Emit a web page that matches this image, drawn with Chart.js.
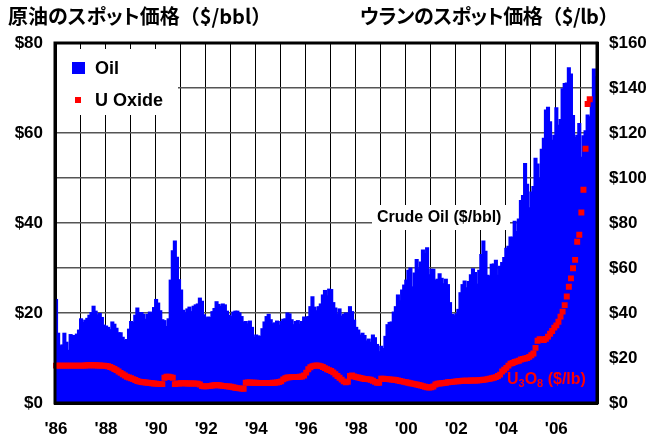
<!DOCTYPE html>
<html>
<head>
<meta charset="utf-8">
<script src="https://cdn.jsdelivr.net/npm/chart.js@4.4.0/dist/chart.umd.min.js"></script>
<style>
body { margin:0; background:#fff; }
#wrap { position:relative; width:652px; height:443px; }
.ttl { position:absolute; top:2px; font: bold 20px "Noto Sans CJK JP", sans-serif; color:#000; white-space:nowrap; line-height:28px; }
.kana { font-feature-settings: "palt"; }
</style>
</head>
<body>
<div id="wrap">
<canvas id="c" width="652" height="443"></canvas>
<div class="ttl" style="left:8px">原油<span class="kana">のスポット</span>価格（$/bbl）</div>
<div class="ttl" style="left:360px; letter-spacing:-0.5px"><span class="kana">ウランのスポット</span>価格（$/lb）</div>
</div>
<script>
// monthly, Jan 1986 .. Aug 2007
var startYear = 1986;
var oilPrice = [
  22.9, 15.4, 12.6, 12.8, 15.4, 13.4, 11.6, 15.1, 14.9, 14.9, 15.2, 16.1,
  18.6, 17.8, 18.3, 18.7, 19.4, 20.0, 21.4, 20.3, 19.5, 19.8, 18.9, 17.2,
  17.0, 16.7, 16.2, 17.9, 17.4, 16.5, 15.5, 15.5, 14.5, 13.8, 14.0, 16.3,
  18.0, 17.8, 19.4, 21.0, 20.0, 20.0, 19.6, 18.5, 19.6, 20.1, 19.8, 21.1,
  22.9, 22.1, 20.4, 18.4, 18.2, 16.9, 18.6, 27.2, 33.7, 35.9, 32.3, 27.3,
  25.0, 20.5, 19.9, 20.8, 21.2, 20.2, 21.4, 21.7, 21.9, 23.2, 22.5, 19.5,
  18.8, 19.0, 18.9, 20.2, 20.9, 22.4, 21.8, 21.4, 21.9, 21.7, 20.3, 19.4,
  19.1, 20.1, 20.3, 20.3, 19.9, 19.1, 17.9, 18.0, 17.5, 18.1, 16.7, 14.5,
  15.0, 14.8, 14.7, 16.4, 17.9, 19.1, 19.6, 18.4, 17.5, 17.7, 18.1, 17.2,
  18.0, 18.5, 18.6, 19.9, 19.7, 18.4, 17.3, 18.0, 18.2, 17.4, 18.0, 19.0,
  18.9, 19.1, 21.3, 23.5, 21.2, 20.4, 21.3, 21.9, 23.9, 24.9, 23.7, 25.2,
  25.1, 22.2, 21.0, 19.7, 20.8, 19.2, 19.6, 19.9, 19.8, 21.3, 20.2, 18.3,
  16.7, 16.1, 15.0, 15.4, 14.9, 13.7, 14.1, 13.4, 15.0, 14.4, 12.9, 11.3,
  12.5, 12.0, 14.7, 17.3, 17.8, 17.9, 20.1, 21.3, 23.9, 22.6, 25.0, 26.1,
  27.2, 29.4, 29.9, 25.7, 28.8, 31.8, 29.7, 31.2, 33.9, 33.1, 34.4, 28.4,
  29.6, 29.6, 27.2, 27.4, 28.6, 27.6, 26.4, 27.4, 26.2, 22.2, 19.6, 19.3,
  19.7, 20.7, 24.4, 26.2, 27.0, 25.5, 26.9, 28.4, 29.7, 28.9, 26.3, 29.4,
  32.9, 35.9, 33.6, 28.3, 28.1, 30.7, 30.8, 31.6, 28.3, 30.3, 31.1, 32.2,
  34.3, 34.7, 36.8, 36.7, 40.3, 38.0, 40.8, 44.9, 46.0, 53.1, 48.5, 43.3,
  46.8, 48.0, 54.3, 53.0, 49.8, 56.3, 58.7, 65.0, 65.6, 62.4, 58.3, 59.4,
  65.5, 61.6, 62.9, 69.7, 70.9, 71.0, 74.4, 73.0, 63.8, 58.9, 59.4, 62.0,
  54.5, 59.3, 60.4, 63.9, 63.5, 67.5, 74.1, 72.4
];
// U3O8 spot, monthly, Jan 1986 .. May 2007
var uraniumPrice = [
  16.6, 16.6, 16.6, 16.6, 16.6, 16.6, 16.6, 16.6, 16.6, 16.6, 16.6, 16.6,
  16.6, 16.6, 16.7, 16.8, 16.8, 16.8, 16.8, 16.8, 16.7, 16.7, 16.6, 16.6,
  16.5, 16.3, 16.0, 15.6, 15.1, 14.6, 14.0, 13.4, 12.8, 12.2, 11.7, 11.3,
  11.0, 10.6, 10.2, 9.8, 9.5, 9.3, 9.2, 9.1, 9.0, 8.9, 8.8, 8.7,
  8.6, 8.5, 8.4, 8.4, 11.2, 11.7, 11.7, 11.5, 11.2, 8.4, 8.6, 8.7,
  8.8, 8.8, 8.8, 8.7, 8.7, 8.7, 8.7, 8.6, 8.6, 8.2, 7.5, 7.4,
  7.4, 7.5, 7.6, 7.8, 7.9, 8.0, 7.9, 7.8, 7.6, 7.5, 7.4, 7.3,
  7.2, 7.0, 6.8, 6.6, 6.5, 6.4, 6.3, 9.0, 9.1, 9.1, 9.0, 9.0,
  9.0, 8.9, 8.9, 8.9, 8.9, 8.9, 8.9, 8.9, 9.0, 9.0, 9.1, 9.3,
  9.6, 10.5, 11.0, 11.3, 11.4, 11.5, 11.5, 11.5, 11.6, 11.7, 11.8, 12.2,
  13.5, 15.0, 15.9, 16.4, 16.6, 16.7, 16.6, 16.4, 16.0, 15.5, 15.0, 14.6,
  14.2, 13.6, 12.8, 12.0, 11.2, 10.4, 9.6, 9.2, 9.4, 12.0, 12.2, 11.8,
  11.5, 11.3, 11.1, 10.9, 10.7, 10.6, 10.5, 10.3, 9.9, 9.4, 9.0, 9.0,
  10.8, 10.8, 10.7, 10.6, 10.5, 10.4, 10.3, 10.2, 10.0, 9.8, 9.6, 9.4,
  9.2, 9.0, 8.8, 8.6, 8.4, 8.2, 8.0, 7.8, 7.5, 7.2, 7.0, 6.9,
  7.0, 7.3, 8.2, 8.6, 8.7, 8.8, 8.9, 9.0, 9.2, 9.3, 9.4, 9.5,
  9.6, 9.7, 9.8, 9.9, 9.9, 9.9, 9.9, 10.0, 10.0, 10.0, 10.0, 10.1,
  10.2, 10.3, 10.4, 10.6, 10.8, 11.0, 11.2, 11.5, 12.0, 12.6, 14.0, 14.8,
  15.6, 16.6, 17.5, 17.8, 18.2, 18.5, 18.8, 19.3, 19.6, 19.8, 20.0, 20.5,
  21.2, 22.0, 24.5, 27.7, 28.4, 28.2, 28.0, 28.5, 29.5, 30.8, 32.0, 33.5,
  34.5, 36.1, 38.4, 40.6, 43.5, 47.3, 51.7, 55.4, 59.9, 63.6, 71.7, 74.8,
  84.7, 94.8, 113, 132.9, 135
];
var yearLabels = ["'86", "'88", "'90", "'92", "'94", "'96", "'98", "'00", "'02", "'04", "'06"];
var oilTicks = ['$0', '$20', '$40', '$60', '$80'];
var uraniumTicks = ['$0', '$20', '$40', '$60', '$80', '$100', '$120', '$140', '$160'];

var months = [];
for (var i = 0; i < oilPrice.length; i++) {
  months.push((startYear + Math.floor(i / 12)) + '-' + (i % 12 + 1));
}

var FONT = '"Liberation Sans", Arial, sans-serif';
Chart.defaults.font.family = FONT;
Chart.defaults.font.weight = 'bold';
Chart.defaults.font.size = 17;
Chart.defaults.color = '#000';

// frame, legend box and the two text notes
var overlay = {
  id: 'overlay',
  afterDatasetsDraw: function(chart) {
    var ctx = chart.ctx, a = chart.chartArea;
    ctx.save();
    ctx.lineWidth = 3;
    ctx.strokeStyle = '#000';
    ctx.strokeRect(a.left, a.top, a.right - a.left, a.bottom - a.top);

    // legend
    ctx.fillStyle = '#fff';
    ctx.fillRect(a.left + 2, a.top + 6, 121, 66);
    ctx.fillStyle = '#0000ff';
    ctx.fillRect(a.left + 17, a.top + 19, 13, 12);
    ctx.fillStyle = '#ff0000';
    ctx.fillRect(a.left + 20, a.top + 54, 6, 6);
    ctx.fillStyle = '#000';
    ctx.font = 'bold 18px ' + FONT;
    ctx.textBaseline = 'middle';
    ctx.textAlign = 'left';
    ctx.fillText('Oil', a.left + 40, a.top + 26);
    ctx.fillText('U Oxide', a.left + 40, a.top + 58);

    // crude oil note
    ctx.fillStyle = '#fff';
    ctx.fillRect(372, 205, 138, 25);
    ctx.fillStyle = '#000';
    ctx.font = 'bold 16px ' + FONT;
    ctx.fillText('Crude Oil ($/bbl)', 377, 218);

    // U3O8 note
    ctx.fillStyle = '#ff0000';
    var x = 507, y = 380;
    var parts = [['U', 16, 0], ['3', 11, 4], ['O', 16, 0], ['8', 11, 4], [' ($/lb)', 16, 0]];
    parts.forEach(function(p) {
      ctx.font = 'bold ' + p[1] + 'px ' + FONT;
      ctx.fillText(p[0], x, y + p[2]);
      x += ctx.measureText(p[0]).width;
    });
    ctx.restore();
  }
};

new Chart(document.getElementById('c'), {
  type: 'bar',
  data: {
    labels: months,
    datasets: [
      {
        type: 'line',
        label: 'U Oxide',
        data: uraniumPrice,
        yAxisID: 'y2',
        showLine: false,
        pointStyle: 'rect',
        pointRadius: 4.2,
        pointBorderWidth: 0,
        pointBackgroundColor: '#ff0000',
        pointBorderColor: '#ff0000',
        order: 0
      },
      {
        label: 'Oil',
        data: oilPrice,
        yAxisID: 'y',
        backgroundColor: '#0000ff',
        borderWidth: 0,
        inflateAmount: 1,   // avoids white seams between the thin bars
        barPercentage: 1.0,
        categoryPercentage: 1.0,
        order: 1
      }
    ]
  },
  options: {
    responsive: false,
    animation: false,
    devicePixelRatio: 1,
    layout: { padding: { top: 43, left: 0, right: 0, bottom: 0 } },
    plugins: { legend: { display: false }, tooltip: { enabled: false } },
    scales: {
      x: {
        offset: true,
        grid: {
          offset: true,
          drawTicks: false,
          lineWidth: 1,
          color: function(c) { return (c.index % 12 === 0 && c.index > 0) ? '#000' : 'rgba(0,0,0,0)'; }
        },
        border: { display: true, width: 3, color: '#000' },
        ticks: {
          autoSkip: false,
          maxRotation: 0,
          minRotation: 0,
          padding: 16,
          callback: function(v, i) { return i % 24 === 0 ? yearLabels[i / 24] : ''; }
        },
        afterFit: function(s) { s.height = 40; }
      },
      y: {
        position: 'left',
        min: 0, max: 80,
        grid: { drawTicks: false, color: '#555', lineWidth: 1.5 },
        border: { display: true, width: 3, color: '#000' },
        ticks: {
          stepSize: 10,
          padding: 12,
          callback: function(v) { return v % 20 === 0 ? oilTicks[v / 20] : ''; }
        },
        afterFit: function(s) { s.width = 55; }
      },
      y2: {
        position: 'right',
        min: 0, max: 160,
        grid: { display: false, drawTicks: false },
        border: { display: true, width: 3, color: '#000' },
        ticks: {
          stepSize: 20,
          padding: 12,
          callback: function(v) { return uraniumTicks[v / 20]; }
        },
        afterFit: function(s) { s.width = 55; }
      }
    }
  },
  plugins: [overlay]
});
</script>
</body>
</html>
